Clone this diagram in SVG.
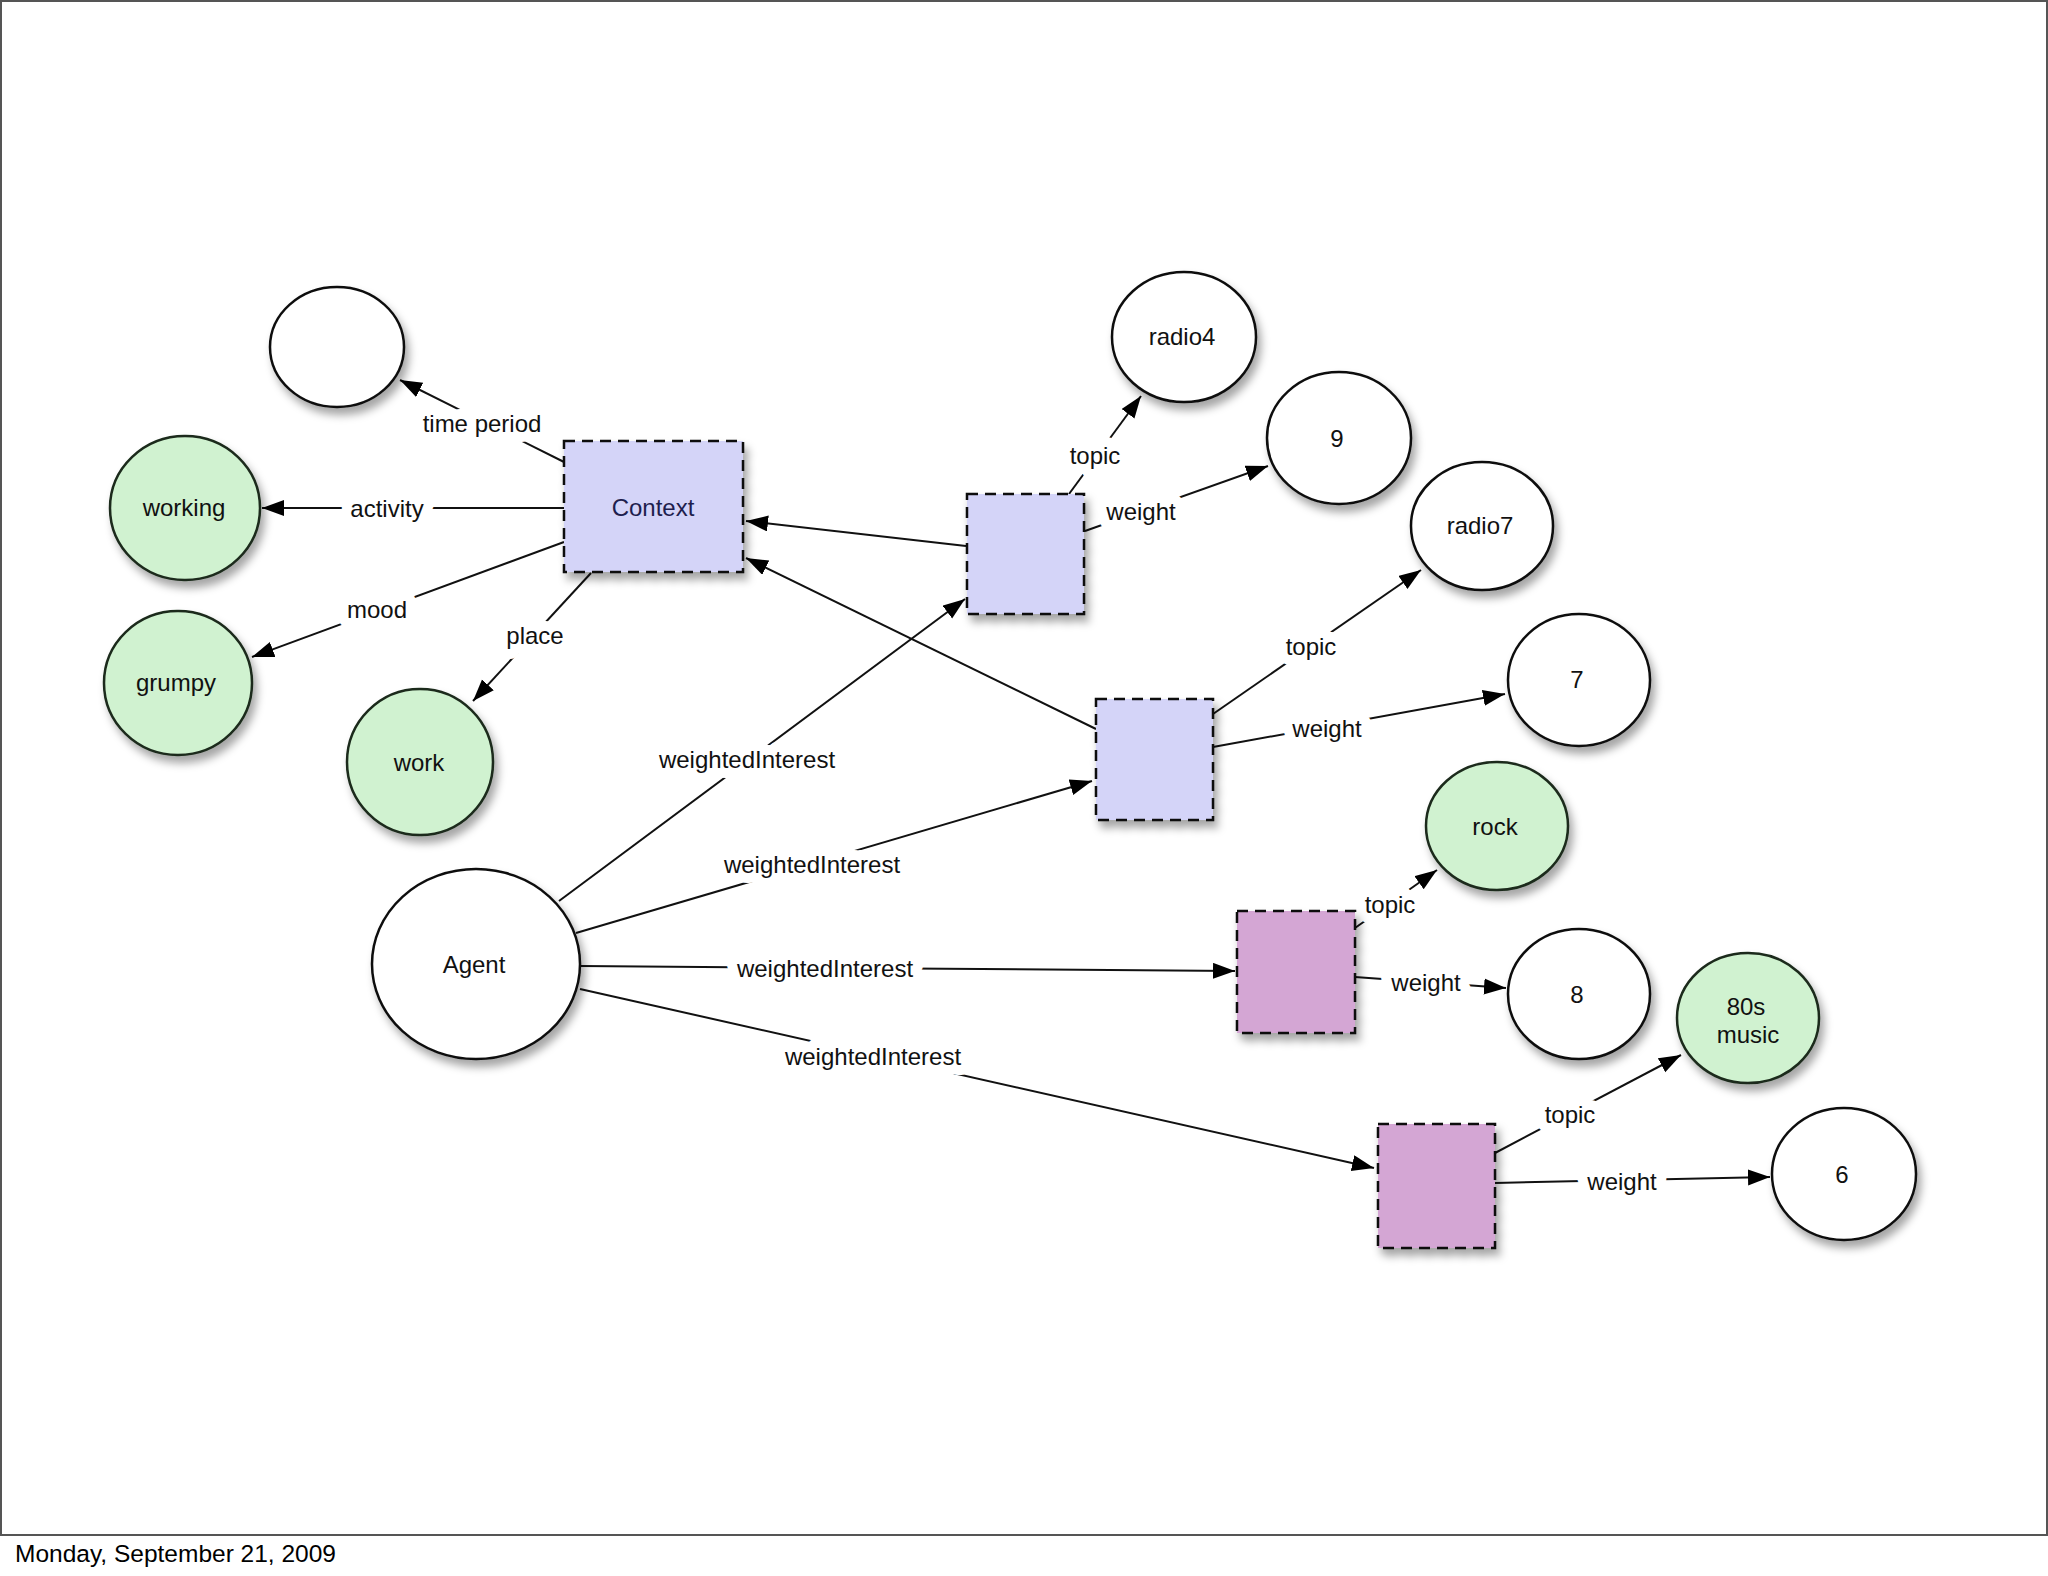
<svg xmlns="http://www.w3.org/2000/svg" width="2048" height="1576" viewBox="0 0 2048 1576">
<defs>
<filter id="sh" x="-20%" y="-20%" width="150%" height="150%">
<feDropShadow dx="4" dy="7" stdDeviation="4" flood-color="#000" flood-opacity="0.35"/>
</filter>
<marker id="ah" markerUnits="userSpaceOnUse" markerWidth="24" markerHeight="18" refX="22" refY="8" orient="auto">
<path d="M0,0 L22,8 L0,16 Z" fill="#000"/>
</marker>
<style>
.bg{fill:#fff}
.frame{fill:none;stroke:#555;stroke-width:2}
.cw{fill:#fff;stroke:#111;stroke-width:2.5;filter:url(#sh)}
.cg{fill:#d0f2d0;stroke:#1b2b1b;stroke-width:2.5;filter:url(#sh)}
.bb{fill:#d4d4f8;stroke:#111;stroke-width:2.5;stroke-dasharray:11 7;filter:url(#sh)}
.pb{fill:#d4a6d4;stroke:#111;stroke-width:2.5;stroke-dasharray:11 7;filter:url(#sh)}
.e{fill:none;stroke:#111;stroke-width:2;marker-end:url(#ah)}
.t{font-family:"Liberation Sans",Arial,sans-serif;font-size:24px;fill:#111;text-anchor:middle}
.ctx{fill:#1e1e4e}
.lb{font-family:"Liberation Sans",Arial,sans-serif;font-size:24px;fill:#111;text-anchor:middle;stroke:#fff;stroke-width:20;paint-order:stroke;stroke-linejoin:round}
.foot{font-family:"Liberation Sans",Arial,sans-serif;font-size:24.5px;fill:#000}
</style>
</defs>
<rect class="bg" x="0" y="0" width="2048" height="1576"/>
<rect class="frame" x="1" y="1" width="2046" height="1534"/>

<g id="connectors">
<line class="e" x1="564" y1="462" x2="400" y2="380"/>
<line class="e" x1="564" y1="508" x2="262" y2="508"/>
<line class="e" x1="564" y1="542" x2="252" y2="657"/>
<line class="e" x1="591" y1="573" x2="473" y2="701"/>
<line class="e" x1="966" y1="546" x2="746" y2="521"/>
<line class="e" x1="1096" y1="729" x2="746" y2="558"/>
<line class="e" x1="559" y1="901" x2="965" y2="599"/>
<line class="e" x1="576" y1="933" x2="1092" y2="781"/>
<line class="e" x1="580" y1="966" x2="1235" y2="971"/>
<line class="e" x1="580" y1="989" x2="1374" y2="1168"/>
<line class="e" x1="1069" y1="494" x2="1141" y2="396"/>
<line class="e" x1="1085" y1="531" x2="1268" y2="466"/>
<line class="e" x1="1213" y1="714" x2="1421" y2="570"/>
<line class="e" x1="1213" y1="747" x2="1505" y2="694"/>
<line class="e" x1="1355" y1="928" x2="1437" y2="870"/>
<line class="e" x1="1355" y1="977" x2="1506" y2="988"/>
<line class="e" x1="1495" y1="1153" x2="1681" y2="1055"/>
<line class="e" x1="1495" y1="1183" x2="1770" y2="1177"/>
<text class="lb" x="482" y="432">time period</text>
<text class="lb" x="387" y="517">activity</text>
<text class="lb" x="377" y="618">mood</text>
<text class="lb" x="535" y="644">place</text>
<text class="lb" x="1095" y="464">topic</text>
<text class="lb" x="1141" y="520">weight</text>
<text class="lb" x="1311" y="655">topic</text>
<text class="lb" x="1327" y="737">weight</text>
<text class="lb" x="747" y="768">weightedInterest</text>
<text class="lb" x="812" y="873">weightedInterest</text>
<text class="lb" x="825" y="977">weightedInterest</text>
<text class="lb" x="873" y="1065">weightedInterest</text>
<text class="lb" x="1390" y="913">topic</text>
<text class="lb" x="1426" y="991">weight</text>
<text class="lb" x="1570" y="1123">topic</text>
<text class="lb" x="1622" y="1190">weight</text>
</g>

<g id="n-timeperiod"><ellipse class="cw" cx="337" cy="347" rx="67" ry="60"/></g>
<g id="n-working"><ellipse class="cg" cx="185" cy="508" rx="75" ry="72"/><text class="t" x="184" y="516">working</text></g>
<g id="n-grumpy"><ellipse class="cg" cx="178" cy="683" rx="74" ry="72"/><text class="t" x="176" y="691">grumpy</text></g>
<g id="n-work"><ellipse class="cg" cx="420" cy="762" rx="73" ry="73"/><text class="t" x="419" y="771">work</text></g>
<g id="n-context"><rect class="bb" x="564" y="441" width="179" height="131"/><text class="t ctx" x="653" y="516">Context</text></g>
<g id="n-box1"><rect class="bb" x="967" y="494" width="117" height="120"/></g>
<g id="n-box2"><rect class="bb" x="1096" y="699" width="117" height="121"/></g>
<g id="n-pbox1"><rect class="pb" x="1237" y="911" width="118" height="122"/></g>
<g id="n-pbox2"><rect class="pb" x="1378" y="1124" width="117" height="124"/></g>
<g id="n-radio4"><ellipse class="cw" cx="1184" cy="337" rx="72" ry="65"/><text class="t" x="1182" y="345">radio4</text></g>
<g id="n-9"><ellipse class="cw" cx="1339" cy="438" rx="72" ry="66"/><text class="t" x="1337" y="447">9</text></g>
<g id="n-radio7"><ellipse class="cw" cx="1482" cy="526" rx="71" ry="64"/><text class="t" x="1480" y="534">radio7</text></g>
<g id="n-7"><ellipse class="cw" cx="1579" cy="680" rx="71" ry="66"/><text class="t" x="1577" y="688">7</text></g>
<g id="n-rock"><ellipse class="cg" cx="1497" cy="826" rx="71" ry="64"/><text class="t" x="1495" y="835">rock</text></g>
<g id="n-8"><ellipse class="cw" cx="1579" cy="994" rx="71" ry="65"/><text class="t" x="1577" y="1003">8</text></g>
<g id="n-80s"><ellipse class="cg" cx="1748" cy="1018" rx="71" ry="65"/><text class="t" x="1746" y="1015">80s</text><text class="t" x="1748" y="1043">music</text></g>
<g id="n-6"><ellipse class="cw" cx="1844" cy="1174" rx="72" ry="66"/><text class="t" x="1842" y="1183">6</text></g>
<g id="n-agent"><ellipse class="cw" cx="476" cy="964" rx="104" ry="95"/><text class="t" x="474" y="973">Agent</text></g>

<text class="foot" x="15" y="1562">Monday, September 21, 2009</text>
</svg>
